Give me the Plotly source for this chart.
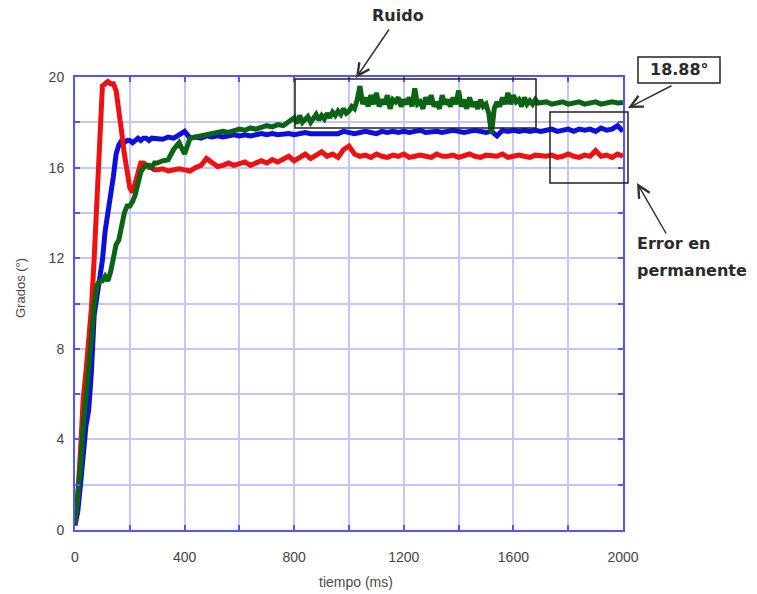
import plotly.graph_objects as go

# time axes (ms)
tiempo = list(range(0, 300, 10)) + list(range(300, 2001, 20))
tiempo_verde = (list(range(0, 300, 10)) + list(range(300, 800, 20))
                + list(range(800, 1700, 10)) + list(range(1700, 2001, 20)))

rojo = [0.3, 1.5, 3.5, 5.8, 7.0, 8.3, 9.8, 12.0, 14.8, 18.0,
        19.6, 19.7, 19.8, 19.7, 19.7, 19.4, 18.6, 17.6, 16.6, 15.8,
        15.1, 14.9, 15.3, 15.8, 16.2, 16.2, 16.1, 16.0, 16.0, 15.9,
        15.9, 15.95, 15.85, 15.9, 15.95, 15.9, 15.85, 16.0, 16.1, 16.4,
        16.2, 16.05, 16.1, 16.2, 16.1, 16.15, 16.25, 16.1, 16.2, 16.3,
        16.2, 16.35, 16.25, 16.4, 16.5, 16.3, 16.45, 16.6, 16.4, 16.55,
        16.7, 16.5, 16.6, 16.45, 16.8, 16.95, 16.6, 16.5, 16.55, 16.45,
        16.6, 16.5, 16.45, 16.55, 16.5, 16.6, 16.45, 16.5, 16.55, 16.5,
        16.45, 16.6, 16.5, 16.5, 16.55, 16.45, 16.5, 16.6, 16.5, 16.45,
        16.55, 16.5, 16.5, 16.6, 16.45, 16.5, 16.55, 16.5, 16.45, 16.55,
        16.5, 16.5, 16.55, 16.45, 16.5, 16.6, 16.5, 16.45, 16.55, 16.5,
        16.75, 16.5, 16.55, 16.45, 16.6, 16.5]

azul = [0.2, 0.8, 2.0, 3.3, 4.6, 5.3, 7.0, 9.5, 10.3, 11.0,
        11.9, 13.2, 13.9, 14.8, 15.6, 16.6, 17.0, 17.2, 17.1, 17.2,
        17.2, 17.1, 17.2, 17.3, 17.2, 17.3, 17.3, 17.2, 17.3, 17.3,
        17.3, 17.25, 17.35, 17.3, 17.45, 17.6, 17.3, 17.35, 17.3, 17.4,
        17.35, 17.4, 17.35, 17.4, 17.45, 17.4, 17.45, 17.4, 17.45, 17.5,
        17.45, 17.5, 17.45, 17.5, 17.5, 17.45, 17.5, 17.55, 17.5, 17.5,
        17.55, 17.5, 17.55, 17.5, 17.6, 17.55, 17.5, 17.55, 17.6, 17.55,
        17.5, 17.6, 17.55, 17.6, 17.55, 17.6, 17.55, 17.6, 17.65, 17.55,
        17.6, 17.6, 17.55, 17.6, 17.65, 17.6, 17.55, 17.6, 17.65, 17.6,
        17.55, 17.6, 17.4, 17.65, 17.6, 17.65, 17.6, 17.65, 17.6, 17.65,
        17.6, 17.65, 17.7, 17.6, 17.65, 17.7, 17.6, 17.7, 17.65, 17.7,
        17.6, 17.75, 17.65, 17.7, 17.85, 17.6]

verde = [0.3, 1.5, 2.8, 4.6, 5.8, 7.0, 8.5, 10.0, 10.8, 11.0,
         11.0, 11.2, 11.0, 11.4, 12.0, 12.6, 12.8, 13.4, 14.0, 14.3,
         14.3, 14.5, 14.8, 15.3, 15.8, 16.0, 16.1, 16.1, 16.0, 16.2,
         # 300-780, 20 ms
         16.2, 16.3, 16.35, 16.8, 17.1, 16.6, 17.3, 17.35, 17.4, 17.45,
         17.5, 17.55, 17.6, 17.55, 17.65, 17.7, 17.65, 17.75, 17.7, 17.8,
         17.85, 17.8, 17.9, 17.85, 18.0,
         # 800-1690, 10 ms
         18.2, 17.95, 18.3, 18.0, 18.1, 18.25, 18.0, 18.2, 18.35, 18.1,
         18.3, 18.15, 18.4, 18.2, 18.45, 18.3, 18.5, 18.35, 18.6, 18.4,
         18.5, 18.7, 18.6, 19.0, 19.6, 18.8, 19.1, 18.7, 19.2, 18.8,
         19.3, 18.7, 19.0, 18.8, 19.2, 18.6, 19.0, 18.9, 19.1, 18.7,
         19.0, 18.8, 19.1, 18.7, 19.5, 18.8, 18.9, 18.6, 19.1, 18.8,
         19.2, 18.7, 18.9, 18.6, 19.2, 18.8, 19.0, 18.7, 19.1, 18.8,
         19.4, 18.7, 19.0, 18.6, 19.1, 18.7, 18.9, 18.6, 19.0, 18.7,
         18.8, 18.4, 17.5, 18.6, 18.9, 18.7, 19.1, 18.8, 19.3, 18.8,
         19.2, 18.9, 19.0, 18.7, 19.1, 18.8, 18.95, 18.8, 19.0, 18.85,
         # 1700-2000, 20 ms
         18.85, 18.9, 18.8, 18.85, 18.9, 18.8, 18.85, 18.9, 18.8, 18.85,
         18.9, 18.8, 18.85, 18.9, 18.85, 18.88]

x_grid = list(range(0, 2001, 200))
x_labels = ["0", "", "400", "", "800", "", "1200", "", "1600", "", "2000"]
y_grid = list(range(0, 21, 2))
y_labels = ["0", "", "4", "", "8", "", "12", "", "16", "", "20"]

assert len(tiempo) == len(rojo) == len(azul), (len(tiempo), len(rojo), len(azul))
assert len(tiempo_verde) == len(verde), (len(tiempo_verde), len(verde))

W, H = 757, 594
L, R, T, B = 75, 623, 77, 530


def px(x):
    return (x - L) / (R - L)


def py(y):
    return (B - y) / (B - T)


fig = go.Figure()
fig.add_trace(go.Scatter(x=tiempo, y=azul, mode="lines",
                         line=dict(color="#0f0fdd", width=5), showlegend=False))
fig.add_trace(go.Scatter(x=tiempo, y=rojo, mode="lines",
                         line=dict(color="#ee1111", width=5), showlegend=False))
fig.add_trace(go.Scatter(x=tiempo_verde, y=verde, mode="lines",
                         line=dict(color="#0a6414", width=5), showlegend=False))

axis_common = dict(
    showgrid=True, gridcolor="#c6c6fb", gridwidth=2,
    showline=True, linecolor="#5555ff", linewidth=2, mirror="ticks",
    ticks="inside", ticklen=5, tickwidth=2, tickcolor="#5555ff",
    zeroline=False,
    tickfont=dict(family="Liberation Sans, Arial", size=14, color="#444444"),
)

fig.update_layout(
    width=W, height=H,
    margin=dict(l=L, r=W - R, t=T, b=H - B),
    plot_bgcolor="white", paper_bgcolor="white",
    xaxis=dict(range=[0, 2000], tickvals=x_grid, ticktext=x_labels,
               ticklabelstandoff=13, **axis_common),
    yaxis=dict(range=[0, 20], tickvals=y_grid, ticktext=y_labels,
               ticklabelstandoff=6, **axis_common),
)

txt_font = dict(family="DejaVu Sans", size=16, color="#2a2a2a")
title_font = dict(family="Liberation Sans, Arial", size=13, color="#4a4a4a")


def label(text, x, y, font, xanchor="center", angle=0):
    fig.add_annotation(text=text, xref="paper", yref="paper",
                       x=px(x), y=py(y), xanchor=xanchor, yanchor="middle",
                       showarrow=False, textangle=angle, font=font)


# axis titles
label("tiempo (ms)", 356, 582,
      dict(family="Liberation Sans, Arial", size=14, color="#4a4a4a"))
label("Grados (°)", 20, 288, title_font, angle=-90)

# rectangles
fig.add_shape(type="rect", xref="paper", yref="paper",
              x0=px(295), x1=px(536), y0=py(79), y1=py(128),
              line=dict(color="#222222", width=1.5))
fig.add_shape(type="rect", xref="paper", yref="paper",
              x0=px(550), x1=px(628), y0=py(112), y1=py(183),
              line=dict(color="#222222", width=1.5))
fig.add_shape(type="rect", xref="paper", yref="paper",
              x0=px(638), x1=px(720), y0=py(57), y1=py(83),
              line=dict(color="#222222", width=1.5), fillcolor="white")

# texts
label("<b>Ruido</b>", 398, 16, txt_font)
label("<b>18.88°</b>", 679, 70, txt_font)
label("<b>Error en</b>", 635, 243, txt_font, xanchor="left")
label("<b>permanente</b>", 635, 270, txt_font, xanchor="left")

# arrows (tail -> tip)
arrows = [((390, 28), (356, 78)), ((673, 85), (628, 108)), ((667, 235), (637, 183))]
for (tx, ty), (hx, hy) in arrows:
    fig.add_annotation(text="", xref="paper", yref="paper",
                       x=px(hx), y=py(hy), ax=tx - hx, ay=ty - hy,
                       showarrow=True, arrowhead=5, arrowsize=1.6,
                       arrowwidth=1.5, arrowcolor="#333333")

fig.write_html("out.html")
